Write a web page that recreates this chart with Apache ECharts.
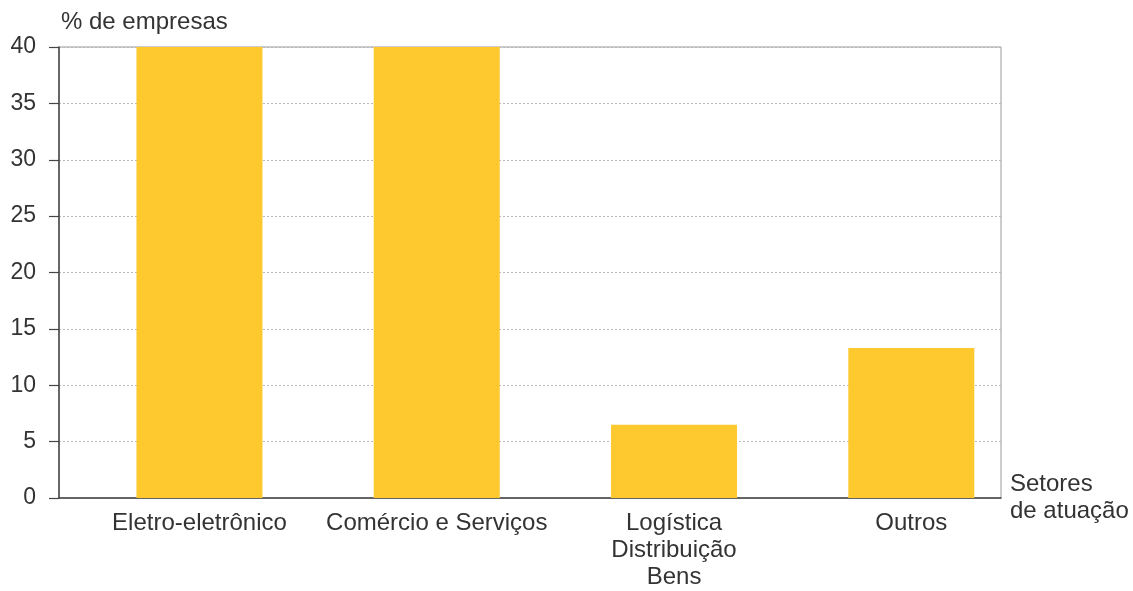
<!DOCTYPE html>
<html>
<head>
<meta charset="utf-8">
<script src="https://cdn.jsdelivr.net/npm/echarts@6/dist/echarts.min.js"></script>
<style>html,body{margin:0;padding:0;background:#fff}#c{width:1133px;height:591px}</style>
</head>
<body>
<div id="c"></div>
<script>
const categories = ['Eletro-eletrônico', 'Comércio e Serviços', 'Logística\nDistribuição\nBens', 'Outros'];
const values = [40, 40, 6.5, 13.3];
const yTicks = [0, 5, 10, 15, 20, 25, 30, 35, 40];
const yTitle = '% de empresas';
const xTitle = 'Setores\nde atuação';

const FONT = '"Liberation Sans", Arial, sans-serif';
const chart = echarts.init(document.getElementById('c'), null, {renderer: 'canvas'});
chart.setOption({
  animation: false,
  backgroundColor: '#fff',
  grid: {left: 59, right: 132, top: 47, bottom: 92, show: true, borderColor: '#9a9a9a', borderWidth: 1, backgroundColor: 'transparent'},
  xAxis: {
    type: 'value', min: -0.592, max: 3.378,
    name: xTitle, nameLocation: 'end', nameGap: 9,
    nameTextStyle: {fontFamily: FONT, fontSize: 24, color: '#333', align: 'left', verticalAlign: 'middle', lineHeight: 27, padding: [6, 0, 0, 0]},
    axisLine: {show: true, onZero: false, lineStyle: {color: '#444', width: 1.5}},
    axisTick: {show: false},
    splitLine: {show: false},
    axisLabel: {
      customValues: categories.map((c, i) => i),
      formatter: v => categories[Math.round(v)] || '',
      fontFamily: FONT, fontSize: 24, color: '#333', lineHeight: 27, margin: 12
    }
  },
  yAxis: {
    type: 'value', min: 0, max: 40, interval: 5,
    name: yTitle, nameLocation: 'end', nameGap: 25,
    nameTextStyle: {fontFamily: FONT, fontSize: 24, color: '#333', align: 'left', verticalAlign: 'middle', padding: [0, 0, 0, 2]},
    axisLine: {show: true, onZero: false, lineStyle: {color: '#444', width: 1.5}},
    axisTick: {show: true, length: 10, lineStyle: {color: '#444', width: 1.2}},
    axisLabel: {
      customValues: yTicks,
      fontFamily: FONT, fontSize: 23, color: '#333', margin: 23
    },
    splitLine: {show: true, lineStyle: {color: '#b8b8b8', type: [2, 2], width: 1}}
  },
  series: [{
    type: 'bar',
    barWidth: 126,
    itemStyle: {color: '#FDC92F'},
    data: categories.map((c, i) => [i, values[i]])
  }]
});
</script>
</body>
</html>
